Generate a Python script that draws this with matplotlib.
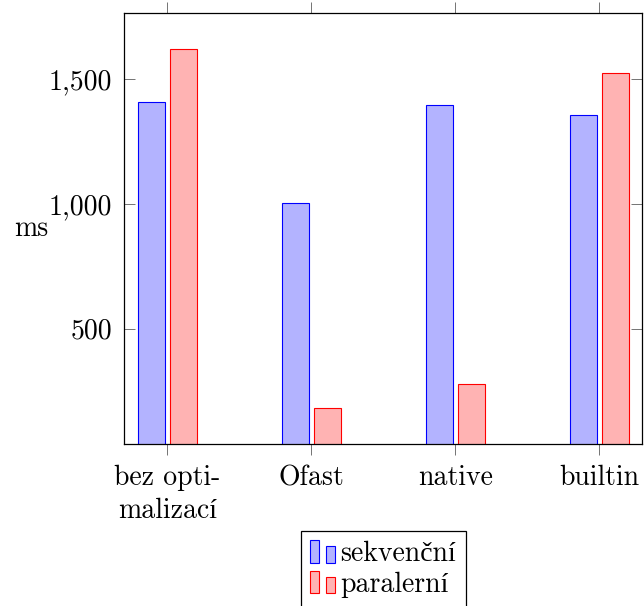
import matplotlib
matplotlib.use("Agg")
import matplotlib.pyplot as plt
from matplotlib.patches import Rectangle
from matplotlib.legend_handler import HandlerBase
from matplotlib.ticker import FuncFormatter, FixedLocator

plt.rcParams['font.family'] = ['cmr10', 'Liberation Serif']
plt.rcParams['axes.formatter.use_mathtext'] = True
plt.rcParams['font.size'] = 20

# data
categories = ['bez opti-\nmalizací', 'Ofast', 'native', 'builtin']
sekvencni = [1409, 1002, 1396, 1355]
paralerni = [1619, 181, 277, 1523]
series_names = ['sekvenční', 'paralerní']
yticks = [500, 1000, 1500]

blue_fill, blue_edge = '#b3b3ff', '#0000ff'
red_fill, red_edge = '#ffb3b3', '#ff0000'


class TwoBars(HandlerBase):
    # pgfplots-style ybar legend glyph: two little bars
    def create_artists(self, legend, orig, xd, yd, w, h, fs, trans):
        fc = orig.get_facecolor()
        ec = orig.get_edgecolor()
        bw = w * 0.35
        x0, y0 = -xd, -yd
        r1 = Rectangle((x0, y0), bw, h, facecolor=fc, edgecolor=ec, lw=0.8, transform=trans)
        r2 = Rectangle((x0 + w - bw, y0), bw, h * 0.75, facecolor=fc, edgecolor=ec, lw=0.8, transform=trans)
        return [r1, r2]


fig = plt.figure(figsize=(6.44, 6.06), dpi=100)
ax = fig.add_axes([0.193, 0.2673, 0.8043, 0.7107])

xs = range(len(categories))
shift = 0.111
bw = 0.1875
b1 = ax.bar([x - shift for x in xs], sekvencni, bw, color=blue_fill, edgecolor=blue_edge, lw=0.8,
            label=series_names[0])
b2 = ax.bar([x + shift for x in xs], paralerni, bw, color=red_fill, edgecolor=red_edge, lw=0.8,
            label=series_names[1])

lo = min(sekvencni + paralerni)
hi = max(sekvencni + paralerni)
pad = 0.1 * (hi - lo)
ax.set_ylim(lo - pad, hi + pad)
ax.set_xlim(-0.3, len(categories) - 0.7)

ax.set_xticks(list(xs))
ax.set_xticklabels(categories, linespacing=1.3)
ax.yaxis.set_major_locator(FixedLocator(yticks))
ax.yaxis.set_major_formatter(FuncFormatter(lambda v, p: f"{v:,.0f}"))

ax.tick_params(axis='x', direction='out', top=True, length=8, width=0.7, color='0.45', pad=7)
ax.tick_params(axis='y', direction='in', right=True, length=8, width=0.7, color='0.45', pad=9)
for s in ax.spines.values():
    s.set_linewidth(0.9)

ax.set_ylabel('ms', rotation=0, va='center', ha='center')
ax.yaxis.set_label_coords(-0.18, 0.5)

h1, h2 = b1.patches[0], b2.patches[0]
leg = fig.legend(handles=[h1, h2], labels=series_names, loc='upper center',
                 bbox_to_anchor=(0.595, 0.1243), borderaxespad=0, fancybox=False,
                 edgecolor='black', framealpha=1, handlelength=0.87, handleheight=0.85,
                 handletextpad=0.2, borderpad=0.35, labelspacing=0.15,
                 handler_map={h1: TwoBars(), h2: TwoBars()})
leg.get_frame().set_linewidth(0.9)

fig.savefig('out.png', dpi=100)
